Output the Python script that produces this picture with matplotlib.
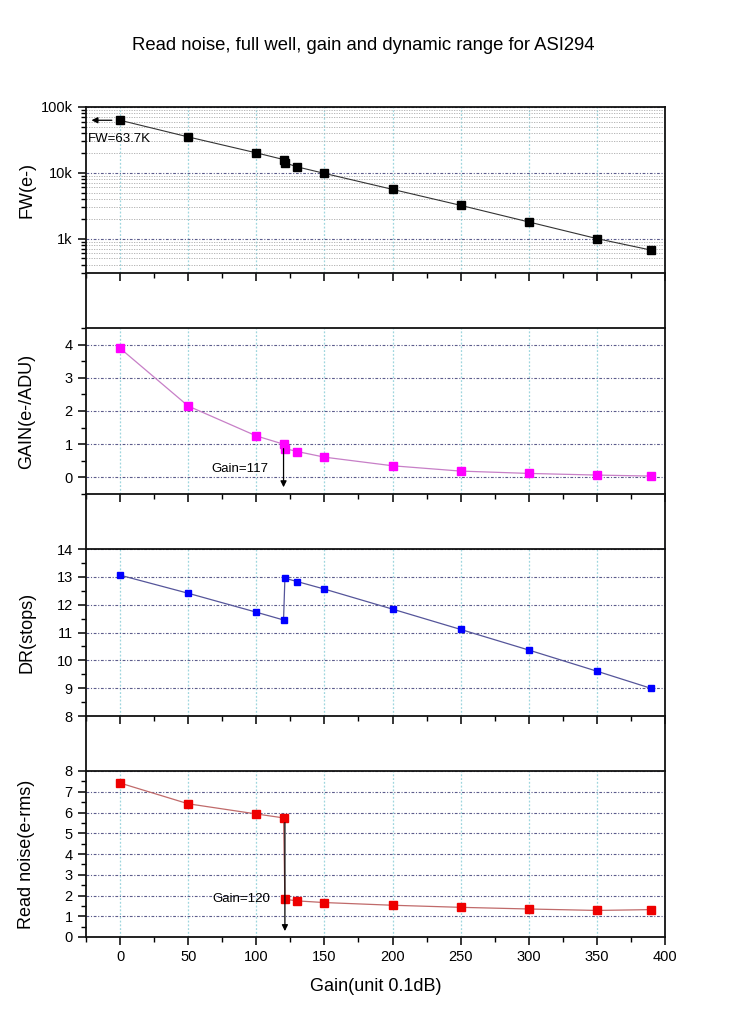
import matplotlib
matplotlib.use("Agg")
import matplotlib.pyplot as plt
from matplotlib.ticker import FixedLocator, MultipleLocator, LogLocator, NullFormatter
from matplotlib.lines import Line2D

plt.rcParams['font.family'] = ['Liberation Sans', 'DejaVu Sans']

# ---- data ----
gain_setting = [0, 50, 100, 120, 121, 130, 150, 200, 250, 300, 350, 390]
full_well = [62900, 35100, 20100, 15900, 14200, 12300, 9800, 5600, 3200, 1790, 1000, 667]
gain_e_adu = [3.89, 2.15, 1.25, 1.00, 0.87, 0.78, 0.61, 0.35, 0.19, 0.12, 0.07, 0.04]
dyn_range = [13.06, 12.41, 11.73, 11.45, 12.95, 12.83, 12.56, 11.84, 11.11, 10.37, 9.61, 8.99]
read_noise = [7.42, 6.42, 5.93, 5.74, 1.82, 1.74, 1.66, 1.53, 1.43, 1.35, 1.28, 1.32]

x_ticks = [0, 50, 100, 150, 200, 250, 300, 350, 400]
fw_ticks = [1e3, 1e4, 1e5]
fw_tick_labels = ["1k", "10k", "100k"]

W, H = 750, 1023
fig = plt.figure(figsize=(W / 100, H / 100), dpi=100)

left_px, right_px = 86, 665
panels_px = [(107, 273), (328, 494), (549, 716), (771, 937)]

def fig_rect(top, bot):
    return [left_px / W, 1 - bot / H, (right_px - left_px) / W, (bot - top) / H]

axes = [fig.add_axes(fig_rect(t, b)) for t, b in panels_px]

xgrid_color = '#9ed6de'
ygrid_color = '#5c5c8c'

for ax in axes:
    ax.set_xlim(-25, 400)
    ax.xaxis.set_major_locator(FixedLocator(x_ticks))
    ax.xaxis.set_minor_locator(MultipleLocator(25))
    ax.tick_params(axis='both', which='major', direction='out', length=6, width=1.1,
                   labelsize=10.5, colors='black')
    ax.tick_params(axis='both', which='minor', direction='out', length=3.5, width=1.0)
    ax.tick_params(axis='x', which='both', top=False)
    ax.tick_params(axis='y', which='both', right=False)
    for s in ax.spines.values():
        s.set_linewidth(1.3)
        s.set_color('#111111')
    ax.grid(True, axis='x', which='major', color=xgrid_color, linestyle=(0, (1.5, 1.5)), linewidth=0.9)
    ax.grid(True, axis='y', which='major', color=ygrid_color, linestyle=(0, (2.5, 1.5, 1, 1.5)), linewidth=0.8)
    ax.set_axisbelow(True)

for ax in axes[:-1]:
    ax.tick_params(axis='x', labelbottom=False)

# ---- FW panel ----
ax = axes[0]
ax.set_yscale('log')
ax.set_ylim(300, 1e5)
ax.yaxis.set_major_locator(FixedLocator(fw_ticks))
ax.set_yticklabels(fw_tick_labels)
ax.yaxis.set_minor_locator(LogLocator(base=10, subs=[2, 3, 4, 5, 6, 7, 8, 9]))
ax.yaxis.set_minor_formatter(NullFormatter())
ax.grid(True, axis='y', which='minor', color='#aaaaaa', linestyle=(0, (1.5, 1.5)), linewidth=0.6)
ax.plot(gain_setting, full_well, color='#333333', lw=0.8, marker='s', ms=6.2,
        mfc='black', mec='black', zorder=3)
ax.annotate('', xy=(-23, full_well[0]), xytext=(-4, full_well[0]),
            arrowprops=dict(arrowstyle='-|>', color='black', lw=0.9, mutation_scale=9))
ax.text(-23.5, 33000, 'FW=63.7K', fontsize=9.5, ha='left', va='center')
ax.set_ylabel('FW(e-)', fontsize=13)

# ---- GAIN panel ----
ax = axes[1]
ax.set_ylim(-0.5, 4.5)
ax.yaxis.set_major_locator(FixedLocator([0, 1, 2, 3, 4]))
ax.yaxis.set_minor_locator(MultipleLocator(0.5))
ax.plot(gain_setting, gain_e_adu, color='#c77fc7', lw=0.9, marker='s', ms=5.2,
        mfc='#ff00ff', mec='#ff00ff', zorder=3)
ax.annotate('', xy=(120, -0.38), xytext=(120, gain_e_adu[3] - 0.05),
            arrowprops=dict(arrowstyle='-|>', color='black', lw=0.9, mutation_scale=9))
ax.text(109, 0.26, 'Gain=117', fontsize=9.5, ha='right', va='center')
ax.set_ylabel('GAIN(e-/ADU)', fontsize=13)

# ---- DR panel ----
ax = axes[2]
ax.set_ylim(8, 14)
ax.yaxis.set_major_locator(FixedLocator([8, 9, 10, 11, 12, 13, 14]))
ax.yaxis.set_minor_locator(MultipleLocator(0.5))
ax.plot(gain_setting, dyn_range, color='#55559a', lw=0.9, marker='s', ms=5.0,
        mfc='#0000ff', mec='#0000ff', zorder=3)
ax.set_ylabel('DR(stops)', fontsize=13)

# ---- Read noise panel ----
ax = axes[3]
ax.set_ylim(0, 8)
ax.yaxis.set_major_locator(FixedLocator([0, 1, 2, 3, 4, 5, 6, 7, 8]))
ax.yaxis.set_minor_locator(MultipleLocator(0.5))
ax.plot(gain_setting, read_noise, color='#c06a6a', lw=0.9, marker='s', ms=5.6,
        mfc='#ee0000', mec='#ee0000', zorder=3)
ax.annotate('', xy=(121, 0.15), xytext=(121, read_noise[3] - 0.1),
            arrowprops=dict(arrowstyle='-|>', color='black', lw=0.9, mutation_scale=9))
ax.text(110.5, 1.82, 'Gain=120', fontsize=9.5, ha='right', va='center')
ax.set_ylabel('Read noise(e-rms)', fontsize=13)
ax.set_xlabel('Gain(unit 0.1dB)', fontsize=13, labelpad=10)

# align y labels
for ax in axes:
    ax.yaxis.set_label_coords(-0.088, 0.5)

# frame lines in the gaps between panels
for (t1, b1), (t2, b2) in zip(panels_px[:-1], panels_px[1:]):
    for xp in (left_px, right_px):
        fig.add_artist(Line2D([xp / W, xp / W], [1 - b1 / H, 1 - t2 / H],
                              color='#111111', lw=1.3, transform=fig.transFigure))

fig.text(363 / W, 1 - 45 / H, 'Read noise, full well, gain and dynamic range for ASI294',
         fontsize=13.3, ha='center', va='center')

fig.savefig('out.png', dpi=100)
